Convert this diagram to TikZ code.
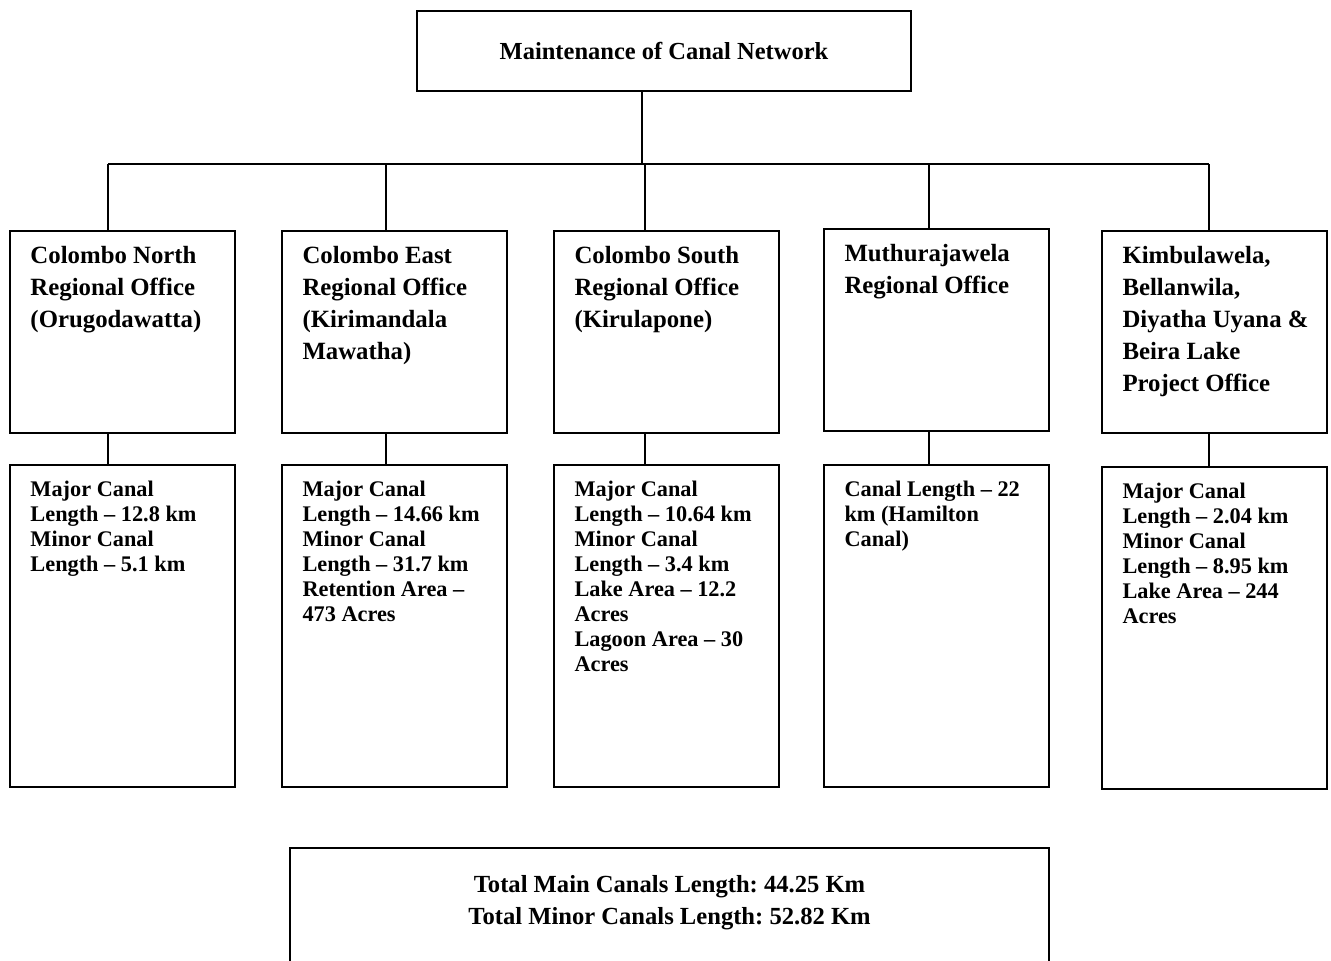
\documentclass[tikz,border=0pt]{standalone}
\usepackage{fontspec}
\setmainfont{Liberation Serif}
\usepackage{tikz}
\usetikzlibrary{positioning,calc}
\frenchspacing

\begin{document}
\begin{tikzpicture}[
    x=1pt, y=-1pt,
    frame/.style={draw, line width=1.4pt, inner sep=0pt},
    office/.style={frame, minimum width=225pt, minimum height=202pt},
    info/.style={frame, minimum width=225pt, minimum height=322pt},
    head/.style={anchor=north west, inner sep=0pt, align=left,
                 font=\fontsize{24.8}{32}\selectfont\bfseries},
    facts/.style={anchor=north west, inner sep=0pt, align=left,
                  font=\fontsize{22.3}{25}\selectfont\bfseries},
    wire/.style={line width=1.4pt}
]
    \useasboundingbox (0,0) rectangle (1331,961);

    % Top node
    \node[frame, minimum width=494pt, minimum height=80pt,
          font=\fontsize{24.5}{28}\selectfont\bfseries] (root) at (664,51)
          {Maintenance of Canal Network};

    % Office row
    \node[office] (o1) at (122.5,332) {};
    \node[office] (o2) at (394.5,332) {};
    \node[office] (o3) at (666.5,332) {};
    \node[office] (o4) at (936.5,330) {};
    \node[office] (o5) at (1214.5,332) {};

    \node[head] (h1) at ([shift={(21,16)}]o1.north west) {Colombo North\\Regional Office\\(Orugodawatta)};
    \node[head] (h2) at ([shift={(21,16)}]o2.north west) {Colombo East\\Regional Office\\(Kirimandala\\Mawatha)};
    \node[head] (h3) at ([shift={(21,16)}]o3.north west) {Colombo South\\Regional Office\\(Kirulapone)};
    \node[head] (h4) at ([shift={(21,16)}]o4.north west) {Muthurajawela\\Regional Office};
    \node[head] (h5) at ([shift={(21,16)}]o5.north west) {Kimbulawela,\\Bellanwila,\\Diyatha Uyana \&\\Beira Lake\\Project Office};

    % Canal details row
    \node[info] (i1) at (122.5,626) {};
    \node[info] (i2) at (394.5,626) {};
    \node[info] (i3) at (666.5,626) {};
    \node[info] (i4) at (936.5,626) {};
    \node[info] (i5) at (1214.5,628) {};

    \node[facts] (d1) at ([shift={(21,17)}]i1.north west) {Major Canal\\Length – 12.8 km\\Minor Canal\\Length – 5.1 km};
    \node[facts] (d2) at ([shift={(21,17)}]i2.north west) {Major Canal\\Length – 14.66 km\\Minor Canal\\Length – 31.7 km\\Retention Area –\\473 Acres};
    \node[facts] (d3) at ([shift={(21,17)}]i3.north west) {Major Canal\\Length – 10.64 km\\Minor Canal\\Length – 3.4 km\\Lake Area – 12.2\\Acres\\Lagoon Area – 30\\Acres};
    \node[facts] (d4) at ([shift={(21,17)}]i4.north west) {Canal Length – 22\\km (Hamilton\\Canal)};
    \node[facts] (d5) at ([shift={(21,17)}]i5.north west) {Major Canal\\Length – 2.04 km\\Minor Canal\\Length – 8.95 km\\Lake Area – 244\\Acres};

    % Totals box (runs off the bottom edge)
    \node[frame, minimum width=759pt, minimum height=160pt] (total) at (669.5,928) {};
    \node[align=center, inner sep=0pt, font=\fontsize{24.6}{32}\selectfont\bfseries] (totaltext) at (669.5,903)
          {Total Main Canals Length: 44.25 Km\\Total Minor Canals Length: 52.82 Km};

    % Bus line and drops
    \coordinate (j0) at (642,164);
    \coordinate (j1) at (108,164);
    \coordinate (j2) at (386,164);
    \coordinate (j3) at (645,164);
    \coordinate (j4) at (929,164);
    \coordinate (j5) at (1209,164);

    \draw[wire] (root.south -| j0) -- (j0);
    \draw[wire] (j1) -- (j5);
    \foreach \k in {1,...,5} {
        \draw[wire] (j\k) -- (j\k |- o\k.north);
        \draw[wire] (o\k.south -| j\k) -- (i\k.north -| j\k);
    }
\end{tikzpicture}
\end{document}
